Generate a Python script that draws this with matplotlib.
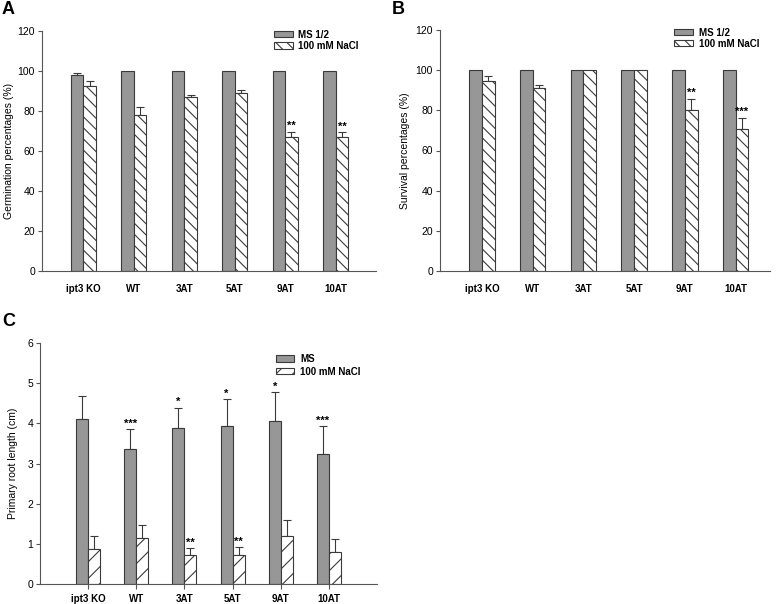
import matplotlib
matplotlib.use("Agg")
import matplotlib.pyplot as plt
import numpy as np

plt.rcParams['font.family'] = ['Liberation Sans', 'DejaVu Sans']
plt.rcParams['hatch.linewidth'] = 0.8
plt.rcParams['hatch.color'] = '#333333'

categories = ["ipt3 KO", "WT", "3AT", "5AT", "9AT", "10AT"]

# Panel A: germination
germ_ms = [98.2, 100, 100, 100, 100, 100]
germ_ms_err = [1.0, 0, 0, 0, 0, 0]
germ_nacl = [92.7, 77.8, 87.0, 88.8, 66.8, 66.8]
germ_nacl_err = [2.3, 4.0, 0.8, 1.7, 2.9, 2.5]
germ_nacl_sig = ["", "", "", "", "**", "**"]

# Panel B: survival
surv_ms = [100, 100, 100, 100, 100, 100]
surv_ms_err = [0, 0, 0, 0, 0, 0]
surv_nacl = [94.6, 91.0, 100, 100, 80.0, 70.6]
surv_nacl_err = [2.4, 1.6, 0, 0, 5.7, 5.6]
surv_nacl_sig = ["", "", "", "", "**", "***"]

# Panel C: primary root length
root_ms = [4.10, 3.35, 3.88, 3.93, 4.06, 3.23]
root_ms_err = [0.57, 0.50, 0.51, 0.67, 0.71, 0.70]
root_ms_sig = ["", "***", "*", "*", "*", "***"]
root_nacl = [0.88, 1.14, 0.71, 0.71, 1.19, 0.80]
root_nacl_err = [0.31, 0.34, 0.18, 0.21, 0.40, 0.33]
root_nacl_sig = ["", "", "**", "**", "", ""]

W, H = 778, 604
fig = plt.figure(figsize=(W / 100, H / 100), dpi=100)

def ax_rect(l, t, r, b):
    return [l / W, 1 - b / H, (r - l) / W, (b - t) / H]

GRAY = '#979797'
EDGE = '#3a3a3a'
SPINE = '#555555'

def panel(rect, ms, ms_err, nacl, nacl_err, ms_sig, nacl_sig, ylim, yticks,
          ylabel, labels, hatch, xlim, xticks_marks, letter, letter_xy, leg_anchor,
          label_pad, ylab_x, labelspacing):
    ax = fig.add_axes(ax_rect(*rect))
    x = np.arange(len(categories))
    w = 0.25
    ax.bar(x - w / 2, ms, w, color=GRAY, edgecolor=EDGE, linewidth=0.8, label=labels[0], zorder=2)
    ax.bar(x + w / 2, nacl, w, color='white', edgecolor=EDGE, linewidth=0.8, hatch=hatch,
           label=labels[1], zorder=2)
    for xi, v, e in zip(x - w / 2, ms, ms_err):
        if e > 0:
            ax.errorbar(xi, v, yerr=[[0], [e]], color=EDGE, capsize=3, elinewidth=0.8,
                        capthick=0.8, zorder=1)
    for xi, v, e in zip(x + w / 2, nacl, nacl_err):
        if e > 0:
            ax.errorbar(xi, v, yerr=[[0], [e]], color=EDGE, capsize=3, elinewidth=0.8,
                        capthick=0.8, zorder=1)
    for xi, v, e, s in zip(x - w / 2, ms, ms_err, ms_sig):
        if s:
            ax.annotate(s, (xi, v + e), xytext=(0, 0.5), textcoords='offset points',
                        ha='center', va='bottom', fontsize=8, fontweight='bold')
    for xi, v, e, s in zip(x + w / 2, nacl, nacl_err, nacl_sig):
        if s:
            ax.annotate(s, (xi, v + e), xytext=(0, 0.5), textcoords='offset points',
                        ha='center', va='bottom', fontsize=8, fontweight='bold')
    ax.set_xlim(*xlim)
    ax.set_ylim(*ylim)
    ax.set_yticks(yticks)
    ax.set_xticks(x)
    ax.set_xticklabels(categories, fontweight='bold', fontsize=7)
    if xticks_marks:
        ax.tick_params(axis='x', length=3.5, width=0.8, color=SPINE, pad=label_pad)
    else:
        ax.tick_params(axis='x', length=0, pad=label_pad)
    ax.tick_params(axis='y', length=3, width=0.8, color=SPINE, labelsize=7.5, pad=2)
    for s in ['top', 'right']:
        ax.spines[s].set_visible(False)
    for s in ['left', 'bottom']:
        ax.spines[s].set_color(SPINE)
        ax.spines[s].set_linewidth(0.8)
    ax.set_ylabel(ylabel, fontsize=7.5)
    ax.yaxis.set_label_coords(ylab_x, 0.5)
    leg = ax.legend(loc='upper left', bbox_to_anchor=leg_anchor, frameon=False,
                    fontsize=7, handlelength=1.9, handleheight=0.6, handletextpad=0.6,
                    labelspacing=labelspacing, borderpad=0, borderaxespad=0)
    for t in leg.get_texts():
        t.set_fontweight('bold')
    fig.text(letter_xy[0] / W, 1 - letter_xy[1] / H, letter, fontsize=13, fontweight='bold',
             ha='left', va='center')
    return ax

panel((42, 31, 376, 271), germ_ms, germ_ms_err, germ_nacl, germ_nacl_err,
      [""] * 6, germ_nacl_sig, (0, 120), range(0, 121, 20), "Germination percentages (%)",
      ["MS 1/2", "100 mM NaCl"], '\\\\\\', (-0.82, 5.8), False, "A", (2, 9),
      (0.695, 1.005), 9, -0.085, 0.12)

panel((440, 30, 770, 271), surv_ms, surv_ms_err, surv_nacl, surv_nacl_err,
      [""] * 6, surv_nacl_sig, (0, 120), range(0, 121, 20), "Survival percentages (%)",
      ["MS 1/2", "100 mM NaCl"], '\\\\\\', (-0.83, 5.68), False, "B", (392, 9),
      (0.71, 1.01), 9, -0.09, 0.12)

panel((40, 343, 377, 584), root_ms, root_ms_err, root_nacl, root_nacl_err,
      root_ms_sig, root_nacl_sig, (0, 6), range(0, 7), "Primary root length (cm)",
      ["MS", "100 mM NaCl"], '//', (-1.0, 6.0), True, "C", (2, 321),
      (0.70, 0.955), 4, -0.065, 0.3)

fig.savefig("out.png", dpi=100)
